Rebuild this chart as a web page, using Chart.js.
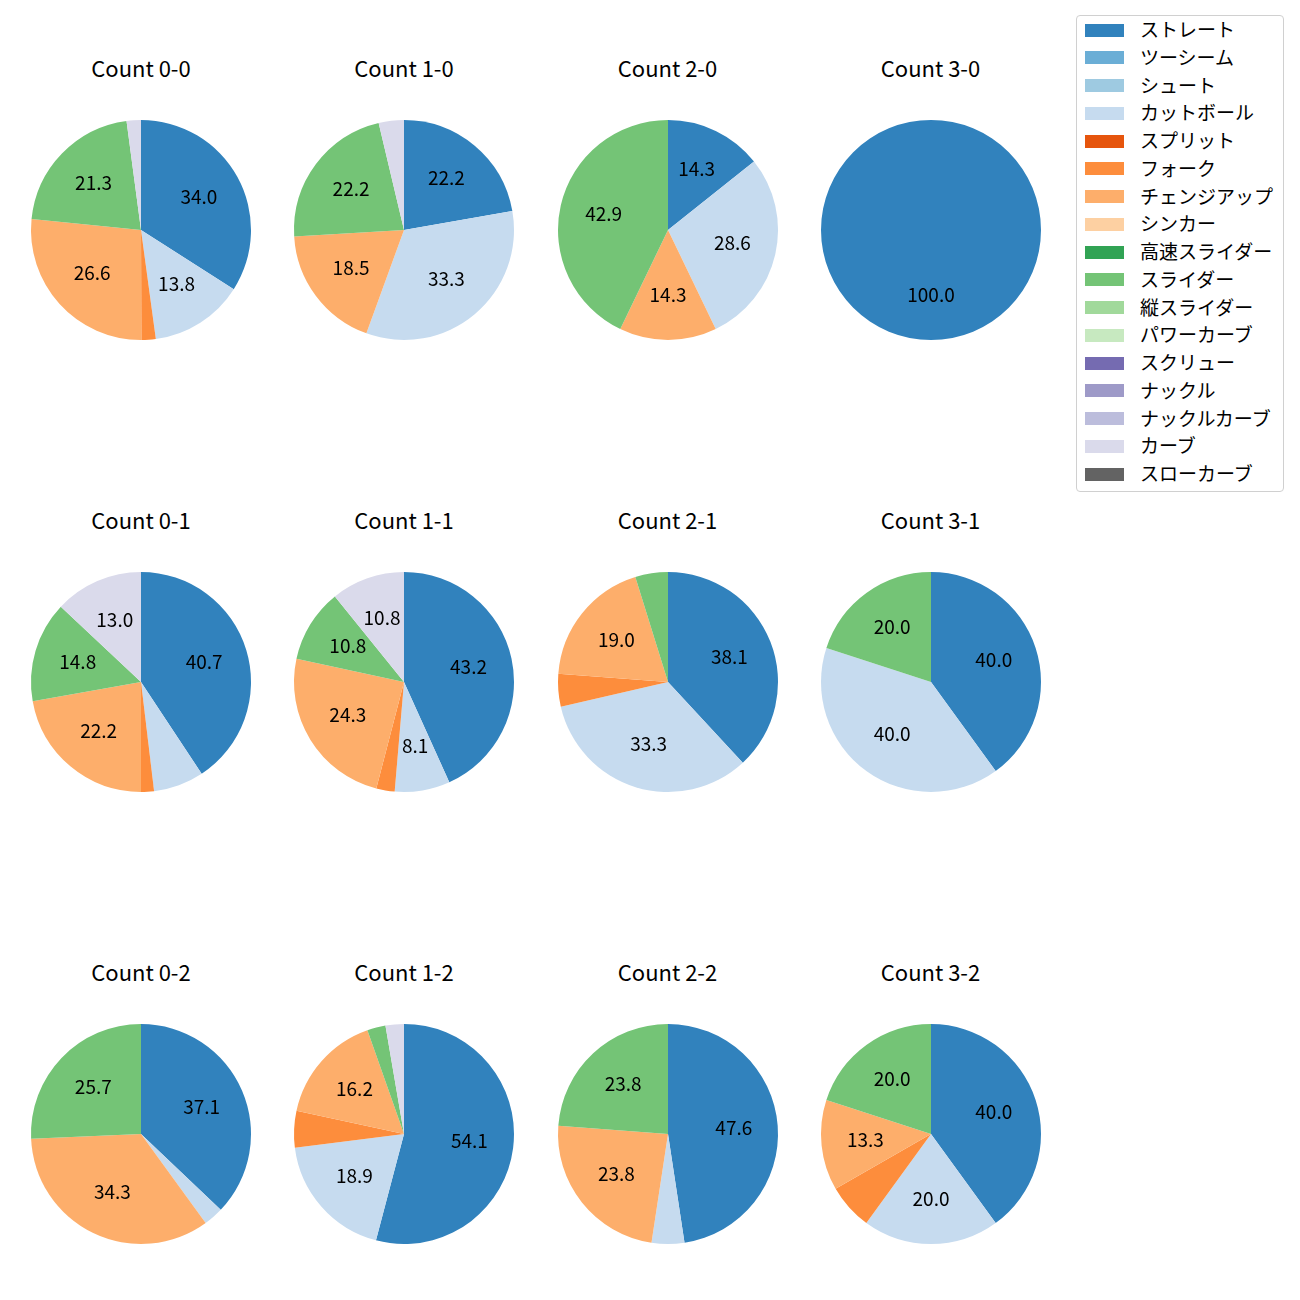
<!DOCTYPE html>
<html>
<head>
<meta charset="utf-8">
<script src="https://cdn.jsdelivr.net/npm/chart.js@4.4.0/dist/chart.umd.min.js"></script>
<style>
  html, body { margin: 0; padding: 0; background: #fff; }
  body { width: 1300px; height: 1300px; position: relative; overflow: hidden;
         font-family: "Noto Sans CJK JP", "Noto Sans", sans-serif; }
  .pie { position: absolute; }
  .title { position: absolute; width: 240px; text-align: center; font-size: 22px;
           color: #000; line-height: 1; }
  #legend { position: absolute; left: 1076px; top: 15px; width: 208px; height: 477px;
            border: 1px solid #d0d0d0; border-radius: 4px; background: #fff; box-sizing: border-box; }
  .lrow { position: absolute; left: 0; height: 20px; font-size: 19px; line-height: 20px; color: #000; white-space: nowrap; }
  .lsw { position: absolute; left: 8px; top: 3.5px; width: 39px; height: 13px; }
  .ltx { position: absolute; left: 63px; top: -1px; }
</style>
</head>
<body>
<div id="legend"></div>
<script>
const pitchTypes = ["ストレート","ツーシーム","シュート","カットボール","スプリット","フォーク","チェンジアップ","シンカー","高速スライダー","スライダー","縦スライダー","パワーカーブ","スクリュー","ナックル","ナックルカーブ","カーブ","スローカーブ"];
const pitchColors = ["#3182bd","#6baed6","#9ecae1","#c6dbef","#e6550d","#fd8d3c","#fdae6b","#fdd0a2","#31a354","#74c476","#a1d99b","#c7e9c0","#756bb1","#9e9ac8","#bcbddc","#dadaeb","#636363"];
const countLabels = ["Count 0-0","Count 1-0","Count 2-0","Count 3-0","Count 0-1","Count 1-1","Count 2-1","Count 3-1","Count 0-2","Count 1-2","Count 2-2","Count 3-2"];

// percentages per pitch type, in pitchTypes order
const c00 = [34.0,0,0,13.8,0,2.1,26.6,0,0,21.3,0,0,0,0,0,2.1,0];
const c10 = [22.2,0,0,33.3,0,0,18.5,0,0,22.2,0,0,0,0,0,3.7,0];
const c20 = [14.3,0,0,28.6,0,0,14.3,0,0,42.9,0,0,0,0,0,0,0];
const c30 = [100.0,0,0,0,0,0,0,0,0,0,0,0,0,0,0,0,0];
const c01 = [40.7,0,0,7.4,0,1.9,22.2,0,0,14.8,0,0,0,0,0,13.0,0];
const c11 = [43.2,0,0,8.1,0,2.7,24.3,0,0,10.8,0,0,0,0,0,10.8,0];
const c21 = [38.1,0,0,33.3,0,4.8,19.0,0,0,4.8,0,0,0,0,0,0,0];
const c31 = [40.0,0,0,40.0,0,0,0,0,0,20.0,0,0,0,0,0,0,0];
const c02 = [37.1,0,0,2.9,0,0,34.3,0,0,25.7,0,0,0,0,0,0,0];
const c12 = [54.1,0,0,18.9,0,5.4,16.2,0,0,2.7,0,0,0,0,0,2.7,0];
const c22 = [47.6,0,0,4.8,0,0,23.8,0,0,23.8,0,0,0,0,0,0,0];
const c32 = [40.0,0,0,20.0,0,6.7,13.3,0,0,20.0,0,0,0,0,0,0,0];
const countData = [c00,c10,c20,c30,c01,c11,c21,c31,c02,c12,c22,c32];

const labelThreshold = 8;

// layout
const colX = [141, 404, 667.5, 930.5];
const rowY = [229.5, 682, 1134];
const titleY = [69, 521, 973];
const R = 110, PAD = 10;

const pctLabels = {
  id: 'pctLabels',
  afterDatasetsDraw(chart) {
    const ctx = chart.ctx;
    const meta = chart.getDatasetMeta(0);
    const data = chart.data.datasets[0].data;
    const total = data.reduce((a, b) => a + b, 0);
    ctx.save();
    ctx.font = '19px "Noto Sans CJK JP", "Noto Sans", sans-serif';
    ctx.fillStyle = '#000';
    ctx.textAlign = 'center';
    ctx.textBaseline = 'middle';
    meta.data.forEach((arc, i) => {
      const v = data[i];
      if (!v) return;
      const pct = v / total * 100;
      if (pct < labelThreshold) return;
      const p = arc.getProps(['x','y','startAngle','endAngle','outerRadius'], true);
      const mid = (p.startAngle + p.endAngle) / 2;
      const r = p.outerRadius * 0.6;
      ctx.fillText(pct.toFixed(1), p.x + Math.cos(mid) * r, p.y + Math.sin(mid) * r - 1.5);
    });
    ctx.restore();
  }
};

countData.forEach((vals, k) => {
  const col = k % 4, row = Math.floor(k / 4);
  const cx = colX[col], cy = rowY[row];
  const div = document.createElement('div');
  div.className = 'pie';
  div.style.left = (cx - R - PAD) + 'px';
  div.style.top = (cy - R - PAD) + 'px';
  const cv = document.createElement('canvas');
  cv.width = 2 * (R + PAD); cv.height = 2 * (R + PAD);
  cv.style.width = cv.width + 'px'; cv.style.height = cv.height + 'px';
  div.appendChild(cv);
  document.body.appendChild(div);

  const t = document.createElement('div');
  t.className = 'title';
  t.textContent = countLabels[k];
  t.style.left = (cx - 120) + 'px';
  t.style.top = (titleY[row] - 13) + 'px';
  document.body.appendChild(t);

  new Chart(cv, {
    type: 'pie',
    data: {
      labels: pitchTypes,
      datasets: [{ data: vals, backgroundColor: pitchColors, borderWidth: 0 }]
    },
    options: {
      responsive: false,
      animation: false,
      devicePixelRatio: 1,
      layout: { padding: PAD },
      plugins: { legend: { display: false }, tooltip: { enabled: false }, title: { display: false } }
    },
    plugins: [pctLabels]
  });
});

const leg = document.getElementById('legend');
pitchTypes.forEach((name, i) => {
  const row = document.createElement('div');
  row.className = 'lrow';
  row.style.top = (29 - 15 - 10 + i * 27.75) + 'px';
  const sw = document.createElement('div');
  sw.className = 'lsw';
  sw.style.background = pitchColors[i];
  const tx = document.createElement('span');
  tx.className = 'ltx';
  tx.textContent = name;
  row.appendChild(sw); row.appendChild(tx);
  leg.appendChild(row);
});
</script>
</body>
</html>
